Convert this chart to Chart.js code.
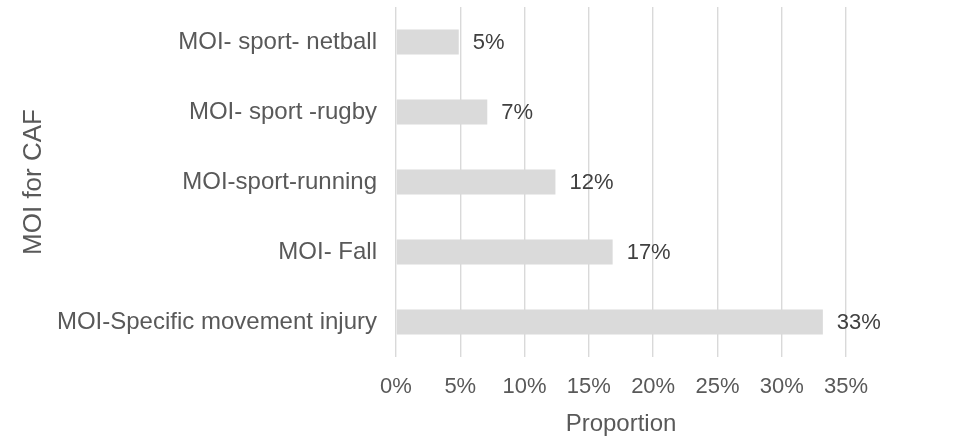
<!DOCTYPE html>
<html>
<head>
<meta charset="utf-8">
<script src="https://cdn.jsdelivr.net/npm/chart.js@4/dist/chart.umd.min.js"></script>
<style>
html,body{margin:0;padding:0;background:#fff;}
#wrap{width:955px;height:442px;}
</style>
</head>
<body>
<div id="wrap"><canvas id="c" width="955" height="442"></canvas></div>
<script>
const categories = ["MOI- sport- netball", "MOI- sport -rugby", "MOI-sport-running", "MOI- Fall", "MOI-Specific movement injury"];
const proportions = [0.0488, 0.071, 0.124, 0.1685, 0.332];
const valueLabels = ["5%", "7%", "12%", "17%", "33%"];
const xTickValues = [0, 0.05, 0.10, 0.15, 0.20, 0.25, 0.30, 0.35];

const FONT = "'Liberation Sans', Arial, Helvetica, sans-serif";

const valueLabelPlugin = {
  id: 'valueLabels',
  afterDatasetsDraw(chart) {
    const ctx = chart.ctx;
    const meta = chart.getDatasetMeta(0);
    ctx.save();
    ctx.font = "22px " + FONT;
    ctx.fillStyle = "#404040";
    ctx.textAlign = "left";
    ctx.textBaseline = "middle";
    meta.data.forEach((bar, i) => {
      ctx.fillText(valueLabels[i], bar.x + 14, bar.y + 1);
    });
    ctx.restore();
  }
};

new Chart(document.getElementById('c'), {
  type: 'bar',
  data: {
    labels: categories,
    datasets: [{
      data: proportions,
      backgroundColor: '#dadada',
      borderWidth: 0,
      categoryPercentage: 1,
      barPercentage: 0.357
    }]
  },
  options: {
    indexAxis: 'y',
    responsive: false,
    animation: false,
    layout: { padding: { top: 7, right: 109, left: 0, bottom: 0 } },
    plugins: { legend: { display: false }, tooltip: { enabled: false } },
    scales: {
      x: {
        min: 0,
        max: 0.35,
        afterBuildTicks(scale) { scale.ticks = xTickValues.map(v => ({ value: v })); },
        afterFit(scale) { scale.height = 85; scale.paddingLeft = 0; scale.paddingRight = 0; },
        grid: { color: '#d9d9d9', lineWidth: 1.4, drawTicks: false },
        border: { display: false },
        ticks: {
          padding: 17,
          color: '#595959',
          font: { family: FONT, size: 22 },
          callback: v => Math.round(v * 100) + '%'
        },
        title: {
          display: true,
          text: 'Proportion',
          color: '#595959',
          font: { family: FONT, size: 24 },
          padding: { top: 0, bottom: 3 }
        }
      },
      y: {
        afterFit(scale) { scale.width = 396; scale.paddingTop = 0; scale.paddingBottom = 0; },
        grid: { display: false, drawTicks: false },
        border: { display: false },
        ticks: {
          padding: 19,
          color: '#595959',
          font: { family: FONT, size: 24 }
        },
        title: {
          display: true,
          text: 'MOI for CAF',
          color: '#595959',
          font: { family: FONT, size: 26 },
          padding: { top: 18, bottom: 0 }
        }
      }
    }
  },
  plugins: [valueLabelPlugin]
});
</script>
</body>
</html>
